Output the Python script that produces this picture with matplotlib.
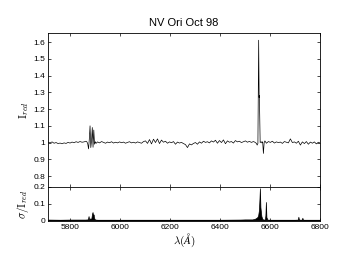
import numpy as np
import matplotlib.pyplot as plt

plt.rcParams['font.family'] = ['Liberation Sans', 'DejaVu Sans']
plt.rcParams['mathtext.fontset'] = 'cm'

# normalised intensity
wl = [5712, 5720, 5728, 5736, 5744, 5752, 5760, 5768, 5776, 5784, 5792, 5800,
      5808, 5816, 5824, 5832, 5840, 5848, 5856, 5864,
      5868, 5871, 5874, 5877, 5880, 5883, 5886, 5889, 5892, 5895, 5898, 5901, 5904,
      5910, 5918, 5926, 5934, 5942, 5950, 5958, 5966, 5974, 5982, 5990, 5998,
      6006, 6014, 6022, 6030, 6038, 6046, 6054, 6062, 6070, 6078, 6086, 6094,
      6102, 6110, 6118, 6126, 6134, 6142, 6150, 6158, 6166, 6174, 6182, 6190,
      6198, 6206, 6214, 6222, 6230, 6238, 6246, 6254, 6262, 6270, 6278, 6286,
      6294, 6302, 6310, 6318, 6326, 6334, 6342, 6350, 6358, 6366, 6374, 6382,
      6390, 6398, 6406, 6414, 6422, 6430, 6438, 6446, 6454, 6462, 6470, 6478,
      6486, 6494, 6502, 6510, 6518, 6526, 6534, 6540,
      6546, 6549, 6552, 6555, 6557, 6558, 6561, 6565, 6568, 6571, 6574, 6577, 6580,
      6586, 6594, 6602, 6610, 6618, 6626, 6634, 6642, 6650, 6658, 6666, 6674,
      6682, 6690, 6698, 6706, 6714, 6722, 6730, 6738, 6746, 6754, 6762, 6770,
      6778, 6786, 6794, 6800]
flux = [1.002, 0.998, 1.004, 0.996, 1.000, 0.994, 0.997, 0.993, 0.998, 0.995, 1.001, 0.997,
        1.003, 0.999, 1.005, 1.001, 1.006, 1.002, 1.004, 1.008,
        1.003, 0.990, 0.962, 1.020, 1.100, 0.970, 1.010, 1.090, 0.972, 1.075, 0.990, 1.005, 0.995,
        1.004, 0.998, 1.006, 1.001, 0.996, 1.003, 0.999, 1.005, 0.997, 1.002, 0.998, 1.004,
        0.999, 1.003, 0.996, 1.001, 1.005, 0.998, 1.002, 0.997, 1.004, 1.000, 0.996, 1.006,
        1.010, 0.995, 1.018, 0.992, 1.020, 1.000, 1.022, 0.994, 1.015, 1.002, 1.008, 0.996,
        1.004, 0.999, 1.006, 0.990, 1.003, 0.997, 1.001, 0.994, 0.988, 0.970, 0.992, 0.986,
        0.995, 1.000, 0.990, 1.004, 0.996, 1.008, 1.001, 1.005, 0.998, 1.010, 1.003, 1.014,
        0.996, 1.012, 1.000, 1.016, 0.993, 1.010, 1.002, 1.006, 0.997, 1.012, 1.004, 1.008,
        1.000, 1.005, 1.010, 1.002, 1.007, 1.001, 1.006, 1.002,
        0.995, 0.985, 0.995, 1.612, 1.270, 1.280, 1.000, 1.005, 0.998, 1.005, 0.935, 1.000, 1.010,
        0.996, 1.006, 1.001, 1.008, 0.997, 1.004, 1.000, 1.003, 0.995, 1.006, 1.002, 0.998,
        1.022, 1.000, 1.004, 0.996, 1.008, 0.985, 1.004, 0.994, 1.006, 0.990, 1.003, 0.996,
        1.004, 0.992, 1.002, 0.998]

# sigma / I_red
wl_s = [5712, 5760, 5800, 5860, 5870, 5872, 5874, 5876, 5878, 5880, 5884, 5886,
        5888, 5890, 5892, 5894, 5896, 5898, 5902, 5910, 6000, 6200, 6400, 6480,
        6500, 6530, 6540, 6545, 6550, 6553, 6556, 6558, 6560, 6562, 6564, 6566,
        6570, 6575, 6580, 6582, 6584, 6586, 6590, 6600, 6700, 6712, 6714, 6716,
        6718, 6722, 6728, 6730, 6732, 6736, 6800]
sig = [0.005, 0.004, 0.005, 0.005, 0.006, 0.010, 0.026, 0.008, 0.005, 0.012, 0.006, 0.020,
       0.040, 0.050, 0.030, 0.036, 0.018, 0.008, 0.005, 0.004, 0.004, 0.004, 0.004, 0.005,
       0.006, 0.006, 0.010, 0.014, 0.020, 0.030, 0.060, 0.120, 0.192, 0.080, 0.050, 0.025,
       0.008, 0.005, 0.006, 0.030, 0.110, 0.020, 0.005, 0.004, 0.004, 0.005, 0.022, 0.006,
       0.005, 0.004, 0.005, 0.016, 0.005, 0.004, 0.004]

fig = plt.figure(figsize=(3.41, 2.56), dpi=100)
ax1 = fig.add_axes([0.141, 0.270, 0.797, 0.601])
ax2 = fig.add_axes([0.141, 0.137, 0.797, 0.133])

ax1.plot(wl, flux, color='black', lw=0.5)
ax1.set_xlim(5712, 6800)
ax1.set_ylim(0.735, 1.655)
ax1.set_yticks([0.8, 0.9, 1.0, 1.1, 1.2, 1.3, 1.4, 1.5, 1.6])
ax1.set_yticklabels(['0.8', '0.9', '1', '1.1', '1.2', '1.3', '1.4', '1.5', '1.6'])
ax1.set_xticks([5800, 6000, 6200, 6400, 6600, 6800])
ax1.set_xticklabels([])
ax1.set_ylabel(r'$\mathrm{I}_{red}$', fontsize=8, labelpad=2)
ax1.set_title('NV Ori Oct 98', fontsize=8, pad=5)

ax2.fill_between(wl_s, 0, sig, color='black', lw=0.5)
ax2.set_xlim(5712, 6800)
ax2.set_ylim(-0.003, 0.2)
ax2.set_yticks([0, 0.1, 0.2])
ax2.set_yticklabels(['0', '0.1', '0.2'])
ax2.set_xticks([5800, 6000, 6200, 6400, 6600, 6800])
ax2.set_ylabel(r'$\sigma/\mathrm{I}_{red}$', fontsize=8, labelpad=2)
ax2.set_xlabel(r'$\lambda(\AA)$', fontsize=8, labelpad=1)

for ax in (ax1, ax2):
    ax.tick_params(direction='in', top=True, right=True, labelsize=6,
                   length=2.5, width=0.5, pad=2)
    for s in ax.spines.values():
        s.set_linewidth(0.6)

fig.savefig('out.png', dpi=100)
